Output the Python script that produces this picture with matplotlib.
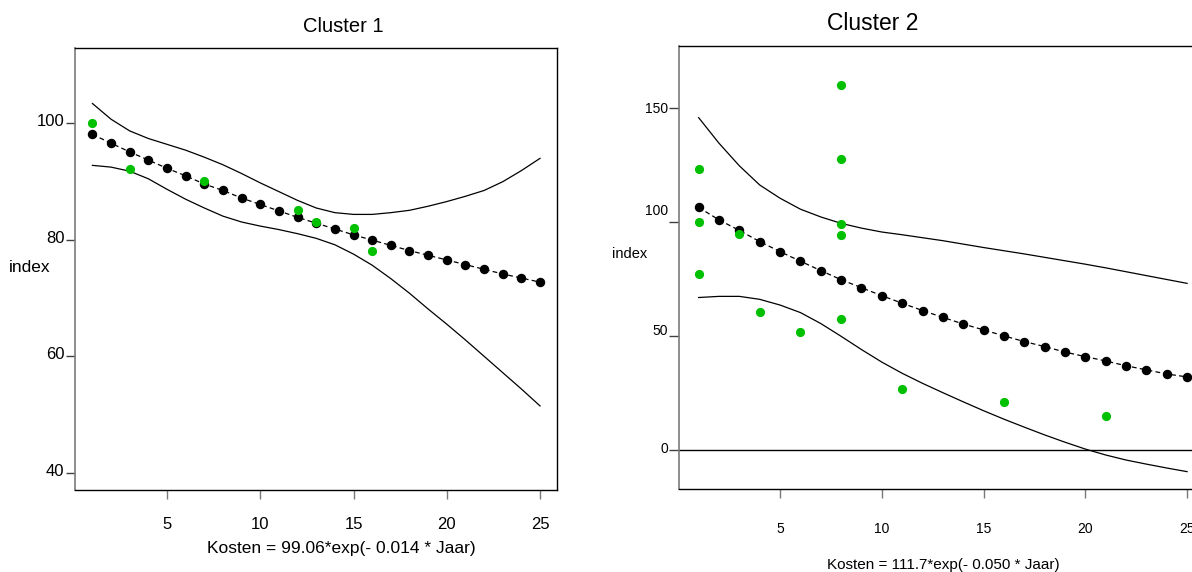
import matplotlib
matplotlib.use('Agg')
import matplotlib.pyplot as plt
import matplotlib.transforms as mtransforms
import numpy as np

plt.rcParams['font.family'] = ['Liberation Sans', 'DejaVu Sans']

# ---------------- data ----------------
years = list(range(1, 26))

# Cluster 1
c1_fit = [98.0, 96.5, 95.0, 93.6, 92.2, 90.9, 89.5, 88.4, 87.1, 86.0, 84.9, 83.8,
          82.8, 81.8, 80.8, 79.9, 79.0, 78.1, 77.3, 76.5, 75.7, 74.9, 74.1, 73.4, 72.7]
c1_upper = [103.3, 100.6, 98.6, 97.3, 96.3, 95.3, 94.1, 92.8, 91.3, 89.7, 88.2, 86.7,
            85.4, 84.6, 84.3, 84.3, 84.6, 85.0, 85.7, 86.5, 87.4, 88.4, 89.9, 91.8, 93.9]
c1_lower = [92.7, 92.4, 91.7, 90.4, 88.6, 86.9, 85.4, 84.0, 83.0, 82.3, 81.7, 81.0,
            80.2, 79.1, 77.5, 75.6, 73.3, 70.8, 68.1, 65.5, 62.8, 60.0, 57.2, 54.4, 51.5]
c1_obs_x = [1, 3, 7, 12, 13, 15, 16]
c1_obs_y = [100.0, 92.0, 90.0, 85.0, 83.0, 82.0, 78.0]

# Cluster 2
c2_fit = [106.3, 100.8, 96.2, 91.3, 86.9, 82.7, 78.6, 74.6, 71.1, 67.6, 64.3, 61.1,
          58.1, 55.2, 52.6, 50.0, 47.5, 45.3, 42.9, 40.9, 39.0, 36.9, 35.1, 33.3, 32.0]
c2_upper = [145.6, 134.4, 124.5, 116.1, 110.3, 105.5, 102.1, 99.3, 97.2, 95.5, 94.3, 93.0,
            91.7, 90.2, 88.7, 87.3, 85.9, 84.4, 82.9, 81.4, 79.8, 78.1, 76.4, 74.7, 73.0]
c2_lower = [66.8, 67.3, 67.3, 66.0, 63.5, 60.2, 55.4, 49.8, 44.0, 38.5, 33.6, 29.2,
            25.1, 21.1, 17.2, 13.5, 10.0, 6.6, 3.4, 0.4, -2.2, -4.4, -6.2, -7.9, -9.5]
c2_obs_x = [1, 1, 1, 3, 4, 6, 8, 8, 8, 8, 8, 11, 16, 21]
c2_obs_y = [123.0, 100.0, 77.0, 94.5, 60.3, 51.8, 159.7, 127.7, 99.0, 94.4, 57.4,
            26.7, 20.9, 14.9]

xticks = [5, 10, 15, 20, 25]
c1_yticks = [40, 60, 80, 100]
c2_yticks = [0, 50, 100, 150]
titles = ["Cluster 1", "Cluster 2"]
xlabels = ["Kosten = 99.06*exp(- 0.014 * Jaar)", "Kosten = 111.7*exp(- 0.050 * Jaar)"]
ylabel = "index"

# ---------------- layout ----------------
W, H = 1192, 572
fig = plt.figure(figsize=(W / 100, H / 100), dpi=100)


def rect(l, t, r, b):
    return [l / W, 1 - b / H, (r - l) / W, (b - t) / H]


GREEN = '#00c000'
GRAY = '#7a7a7a'


def draw(ax, fit, up, lo, ox, oy):
    ax.plot(years, up, color='k', lw=0.9, zorder=2)
    ax.plot(years, lo, color='k', lw=0.9, zorder=2)
    ax.plot(years, fit, color='k', lw=0.9, dashes=(3.8, 2.6), zorder=3)
    ax.plot(years, fit, ls='none', marker='o', ms=5.8, mfc='k', mec='k', zorder=4)
    ax.plot(ox, oy, ls='none', marker='o', ms=5.6, mfc=GREEN, mec=GREEN, zorder=5)
    for s in ['top', 'right', 'bottom']:
        ax.spines[s].set_color('k')
        ax.spines[s].set_linewidth(1.0)
    ax.spines['left'].set_color(GRAY)
    ax.spines['left'].set_linewidth(1.2)


# Left panel
ax1 = fig.add_axes(rect(75, 48, 557, 490))
draw(ax1, c1_fit, c1_upper, c1_lower, c1_obs_x, c1_obs_y)
ax1.set_xlim(0.067, 25.91)
ax1.set_ylim(37.1, 112.8)
ax1.set_xticks(xticks)
ax1.set_yticks(c1_yticks)
ax1.tick_params(axis='x', length=6.5, width=1, color=GRAY, pad=13, labelsize=12)
ax1.tick_params(axis='y', length=6.5, width=1, color='#404040', pad=1, labelsize=12)
for lab in ax1.get_yticklabels():
    lab.set_transform(lab.get_transform() +
                      mtransforms.ScaledTranslation(0, 3 / 100, fig.dpi_scale_trans))

# Right panel (extends past the figure edge, as in the reference)
ax2 = fig.add_axes(rect(679, 46, 1205.4, 489))
draw(ax2, c2_fit, c2_upper, c2_lower, c2_obs_x, c2_obs_y)
ax2.axhline(0, color='k', lw=1.0, zorder=1)
ax2.set_xlim(0.034, 25.9)
ax2.set_ylim(-17.1, 177)
ax2.set_xticks(xticks)
ax2.set_yticks(c2_yticks)
ax2.tick_params(axis='x', length=6.5, width=1, color=GRAY, pad=17, labelsize=10)
ax2.tick_params(axis='y', length=7, width=1, color='#404040', pad=1, labelsize=10)
offsets = [2, 6, 12, 0]
for lab, off in zip(ax2.get_yticklabels(), offsets):
    lab.set_transform(lab.get_transform() +
                      mtransforms.ScaledTranslation(0, off / 100, fig.dpi_scale_trans))

# Texts
fig.text(343 / W, 1 - 26 / H, titles[0], ha='center', va='center', fontsize=14.5)
fig.text(873 / W, 1 - 23.5 / H, titles[1], ha='center', va='center', fontsize=16.5)
fig.text(341.5 / W, 1 - 548 / H, xlabels[0], ha='center', va='center', fontsize=12.5)
fig.text(943.5 / W, 1 - 565 / H, xlabels[1], ha='center', va='center', fontsize=11)
fig.text(30 / W, 1 - 267 / H, ylabel, ha='center', va='center', fontsize=12.5)
fig.text(630 / W, 1 - 254 / H, ylabel, ha='center', va='center', fontsize=10.5)

fig.savefig('out.png', dpi=100)
